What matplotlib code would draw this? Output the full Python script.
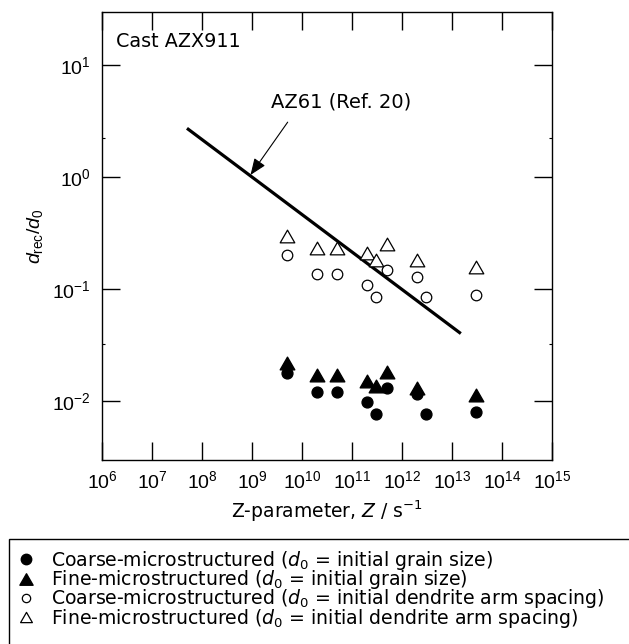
import numpy as np
import matplotlib
matplotlib.use("Agg")
import matplotlib.pyplot as plt
from matplotlib.patches import Rectangle
from matplotlib.lines import Line2D
from matplotlib.path import Path
from matplotlib.font_manager import FontProperties

plt.rcParams['font.family'] = ['Liberation Sans', 'DejaVu Sans']
plt.rcParams['mathtext.fontset'] = 'custom'
plt.rcParams['mathtext.rm'] = 'Liberation Sans'
plt.rcParams['mathtext.it'] = 'Liberation Sans:italic'

# Z-parameter values (s^-1)
z_all = [5e9, 2e10, 5e10, 2e11, 3e11, 5e11, 2e12, 3e12, 3e13]
z_tri = [5e9, 2e10, 5e10, 2e11, 3e11, 5e11, 2e12, 3e13]

# d_rec / d_0
coarse_grain = [0.0177, 0.0121, 0.0121, 0.0097, 0.0077, 0.0131, 0.0115, 0.0077, 0.0080]
fine_grain = [0.022, 0.017, 0.017, 0.0152, 0.0136, 0.0183, 0.0130, 0.0113]
coarse_das = [0.199, 0.136, 0.136, 0.109, 0.0855, 0.148, 0.128, 0.0855, 0.089]
fine_das = [0.30, 0.23, 0.23, 0.21, 0.18, 0.25, 0.18, 0.158]

# AZ61 reference line end points
az61_z = [5e7, 1.5e13]
az61_d = [2.72, 0.040]

legend_labels = [
    r'Coarse-microstructured ($d_0$ = initial grain size)',
    r'Fine-microstructured ($d_0$ = initial grain size)',
    r'Coarse-microstructured ($d_0$ = initial dendrite arm spacing)',
    r'Fine-microstructured ($d_0$ = initial dendrite arm spacing)',
]

TXT = dict(family='DejaVu Sans', math_fontfamily='dejavusans')
# equilateral-ish triangle marker
tri = Path([(0, 0.87), (-1, -0.87), (1, -0.87), (0, 0.87)], closed=True)

fig = plt.figure(figsize=(6.29, 6.44), dpi=100)
ax = fig.add_axes([0.1622, 0.2857, 0.7154, 0.6957])

ax.plot(az61_z, az61_d, color='black', lw=2.3, solid_capstyle='butt')
ax.plot(z_tri, fine_das, marker=tri, ms=10.5, mfc='white', mec='black', mew=0.9, ls='none')
ax.plot(z_all, coarse_das, 'o', ms=7.6, mfc='white', mec='black', mew=0.9, ls='none')
ax.plot(z_tri, fine_grain, marker=tri, ms=10.5, mfc='black', mec='black', ls='none')
ax.plot(z_all, coarse_grain, 'o', ms=7.8, mfc='black', mec='black', ls='none')

ax.set_xscale('log')
ax.set_yscale('log')
ax.set_xlim(1e6, 1e15)
ax.set_ylim(10**-2.527, 10**1.473)

ax.set_xticks([10.0**k for k in range(6, 16)])
ax.set_xticklabels([r'$10^{%d}$' % k for k in range(6, 16)])
ax.set_yticks([10.0**k for k in range(-2, 2)])
ax.set_yticklabels([r'$10^{%d}$' % k for k in range(-2, 2)])
ax.set_yticks([10**-1.49, 10**0.35], minor=True)
ax.xaxis.set_minor_locator(matplotlib.ticker.NullLocator())

ax.tick_params(which='major', direction='in', length=13, width=1.0,
               top=True, right=True, labelsize=14)
ax.tick_params(axis='y', which='major', pad=8)
ax.tick_params(axis='x', which='major', pad=7)
ax.tick_params(which='minor', direction='in', length=2, width=0.8,
               left=True, right=True, labelleft=False)
for s in ax.spines.values():
    s.set_linewidth(1.0)

ax.set_xlabel(r'Z-parameter, $Z$ / s$^{-1}$', fontsize=13.5, labelpad=5, **TXT)
ax.set_ylabel(r'$d_{\rm rec}/d_0$', fontsize=14, labelpad=5)

ax.text(0.03, 0.935, 'Cast AZX911', transform=ax.transAxes, fontsize=13.8,
        ha='left', va='center', **TXT)
ax.annotate('AZ61 (Ref. 20)', xy=(10**8.97, 10**0.018), xytext=(10**10.79, 10**0.67),
            fontsize=14, ha='center', va='center', **TXT,
            arrowprops=dict(arrowstyle='-|>,head_length=0.5,head_width=0.2',
                            color='black', lw=0.8, relpos=(0.17, 0.0),
                            shrinkA=7, shrinkB=0, mutation_scale=20))

# legend box (clipped by figure edge)
fig.patches.append(Rectangle((9 / 629, -0.05), 1.0, 1 - 539 / 644 + 0.05,
                             transform=fig.transFigure, fill=False,
                             edgecolor='black', lw=1.0))
handles = [
    Line2D([], [], marker='o', ls='none', ms=7.5, mfc='black', mec='black'),
    Line2D([], [], marker=tri, ls='none', ms=9.5, mfc='black', mec='black'),
    Line2D([], [], marker='o', ls='none', ms=6, mfc='white', mec='black', mew=0.9),
    Line2D([], [], marker=tri, ls='none', ms=8.5, mfc='white', mec='black', mew=0.9),
]
leg = fig.legend(handles, legend_labels, loc='upper left',
                 bbox_to_anchor=(17 / 629, 1 - 549 / 644), frameon=False,
                 prop=FontProperties(family='DejaVu Sans', size=13.6,
                                     math_fontfamily='dejavusans'),
                 handlelength=1.0, handletextpad=0.8,
                 labelspacing=-0.2, borderaxespad=0, borderpad=0)

fig.savefig('out.png', dpi=100)
